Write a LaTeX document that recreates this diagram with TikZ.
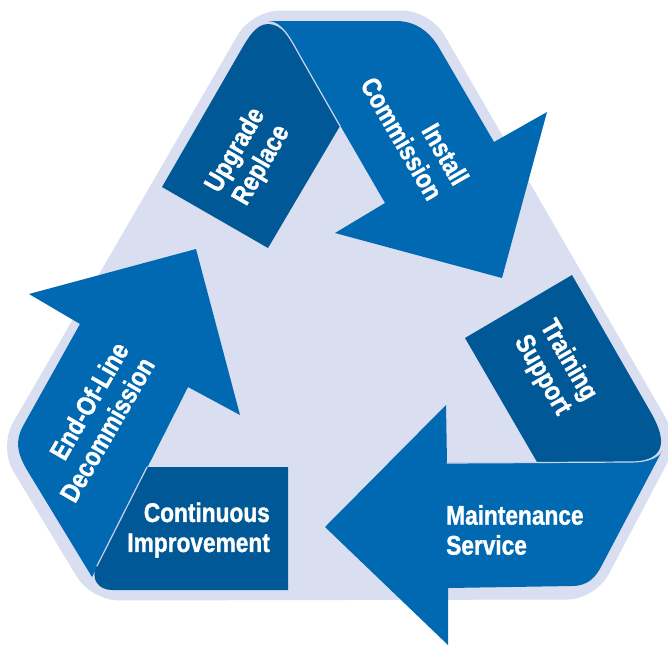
\documentclass[tikz,border=0pt]{standalone}
\usepackage{fontspec}
\newfontfamily\labelfont{Liberation Sans}[UprightFont=* Bold, FakeStretch=0.84, FakeBold=1.2]
\usepackage{tikz}
\definecolor{cyclelavender}{HTML}{D9DEF0}
\definecolor{cycleblue}{HTML}{0069B1}
\definecolor{cycledark}{HTML}{005896}
\definecolor{foldline}{HTML}{C9D3EC}
\tikzset{
  steplabel/.style={text=white, font=\labelfont\fontsize{27}{30}\selectfont, inner sep=0pt},
  foldedge/.style={draw=foldline, line width=1.2pt, line cap=round}
}
\begin{document}
\begin{tikzpicture}[x=1pt, y=-1pt]
    \useasboundingbox (0,0) rectangle (668,646);
    % Lavender backing behind the three ribbons
    \filldraw[cyclelavender, line width=21pt, line join=round, rounded corners=22pt]
      (258,21) -- (424,21) -- (667,441) -- (589,589) -- (97,590) -- (11,447) -- cycle;
    % Top ribbon: install / commission
    \fill[cycleblue] (268,21) -- (396,21) .. controls (414,21) and (428,30) .. (438,46)
      -- (494,142) -- (547,112) -- (502,278) -- (335,233) -- (385,203)
      -- (300,56) .. controls (290,38) and (282,21) .. (268,21) -- cycle;
    \fill[cycledark] (162,187) -- (268,248) -- (340,126)
      -- (300,56) .. controls (290,38) and (282,24) .. (268,24)
      .. controls (256,24) and (248,38) .. (241,50) -- cycle;
    \draw[foldedge] (340,126) -- (300,56) .. controls (290,38) and (282,22) .. (268,22);
    % Right ribbon: training / maintenance
    \fill[cycledark] (465,338) -- (572,275) -- (650,411)
      .. controls (663,433) and (667,452) .. (648,459)
      .. controls (640,462) and (636,462) .. (630,462) -- (537,462) -- cycle;
    \fill[cycleblue] (447,463) -- (630,462) .. controls (645,462) and (656,459) .. (662,451)
      -- (602,565) .. controls (596,577) and (588,586) .. (572,586)
      -- (448,588) -- (448,645) -- (325,527) -- (446,405) -- cycle;
    \draw[foldedge] (447,463) -- (630,462) .. controls (645,462) and (656,459) .. (662,451);
    % Left ribbon: end-of-line / continuous improvement
    \fill[cycleblue] (80,324) -- (29,294) -- (196,249) -- (240,415) -- (188,387)
      -- (92,577) -- (27,470) .. controls (17,453) and (15,441) .. (23,426) -- cycle;
    \fill[cycledark] (147,467) -- (288,467) -- (288,590) -- (112,590)
      .. controls (98,590) and (90,578) .. (97,566) -- cycle;
    \draw[foldedge] (147,467) -- (97,566);
    % Labels
    \node[steplabel, rotate=60, align=center] (upgrade) at (249,158) {Upgrade\\Replace};
    \node[steplabel, rotate=-60, align=right] (install) at (415,131) {Install\\Commission};
    \node[steplabel, rotate=-60, align=center] (training) at (555,368) {Training\\Support};
    \node[steplabel, anchor=west, align=left] (maintenance) at (446,530) {Maintenance\\Service};
    \node[steplabel, anchor=east, align=right] (continuous) at (270,530) {Continuous\\Improvement};
    \node[steplabel, rotate=60, align=right] (endofline) at (94,422) {End-Of-Line\\Decommission};
\end{tikzpicture}
\end{document}
